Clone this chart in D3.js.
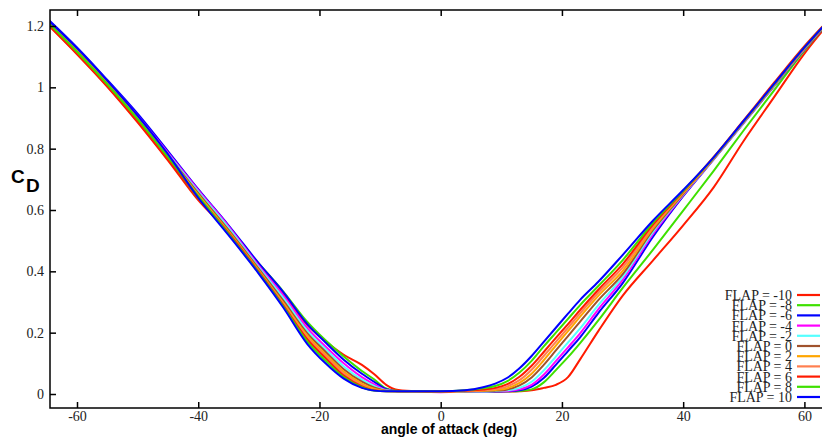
<!DOCTYPE html>
<html>
<head>
<meta charset="utf-8">
<script src="https://cdn.jsdelivr.net/npm/d3@7"></script>
<style>
  body { margin: 0; background: #fff; }
  svg { display: block; }
</style>
</head>
<body>
<div id="chart"></div>
<script>
// angle of attack grid (deg)
const alpha = [-65, -60, -55, -50, -45, -40, -35, -30, -26, -22, -19, -16, -13, -11, -9, -7, -4, 0,
  4, 7, 9, 11, 13, 15, 17, 19, 21, 23, 26, 30, 35, 40, 45, 50, 55, 60, 65];

const flapLabels = ["FLAP = -10", "FLAP = -8", "FLAP = -6", "FLAP = -4", "FLAP = -2", "FLAP = 0",
  "FLAP = 2", "FLAP = 4", "FLAP = 6", "FLAP = 8", "FLAP = 10"];

// CD for each flap setting
const cdFlapM10 = [1.208, 1.108, 1.002, 0.886, 0.762, 0.632, 0.53, 0.415, 0.325, 0.225, 0.172, 0.128, 0.095, 0.065, 0.03, 0.013, 0.009, 0.008,
  0.008, 0.008, 0.008, 0.008, 0.009, 0.012, 0.02, 0.03, 0.055, 0.113, 0.205, 0.32, 0.435, 0.55, 0.673, 0.826, 0.968, 1.11, 1.232];
const cdFlapM8 = [1.213, 1.115, 1.008, 0.892, 0.769, 0.64, 0.535, 0.425, 0.335, 0.235, 0.175, 0.122, 0.075, 0.048, 0.018, 0.01, 0.009, 0.008,
  0.008, 0.008, 0.008, 0.009, 0.01, 0.015, 0.038, 0.078, 0.12, 0.166, 0.24, 0.345, 0.47, 0.598, 0.727, 0.86, 0.99, 1.12, 1.235];
const cdFlapM6 = [1.226, 1.13, 1.024, 0.914, 0.792, 0.668, 0.55, 0.426, 0.333, 0.228, 0.168, 0.112, 0.066, 0.04, 0.016, 0.009, 0.009, 0.008,
  0.008, 0.008, 0.008, 0.009, 0.012, 0.024, 0.052, 0.095, 0.14, 0.185, 0.264, 0.361, 0.512, 0.645, 0.764, 0.884, 1.004, 1.124, 1.236];
const cdFlapM4 = [1.222, 1.125, 1.02, 0.908, 0.787, 0.665, 0.547, 0.418, 0.322, 0.215, 0.155, 0.1, 0.055, 0.032, 0.013, 0.009, 0.008, 0.006,
  0.008, 0.008, 0.009, 0.01, 0.015, 0.03, 0.063, 0.107, 0.152, 0.198, 0.276, 0.372, 0.521, 0.648, 0.765, 0.885, 1.005, 1.125, 1.237];
const cdFlapM2 = [1.22, 1.122, 1.017, 0.904, 0.783, 0.66, 0.542, 0.413, 0.314, 0.206, 0.146, 0.09, 0.047, 0.026, 0.012, 0.009, 0.009, 0.007,
  0.008, 0.008, 0.01, 0.012, 0.02, 0.04, 0.077, 0.122, 0.168, 0.214, 0.29, 0.381, 0.528, 0.65, 0.766, 0.886, 1.006, 1.126, 1.237];
const cdFlap0 = [1.218, 1.12, 1.015, 0.901, 0.779, 0.655, 0.535, 0.408, 0.305, 0.198, 0.138, 0.081, 0.04, 0.021, 0.011, 0.009, 0.009, 0.008,
  0.009, 0.01, 0.011, 0.015, 0.028, 0.054, 0.095, 0.142, 0.189, 0.236, 0.306, 0.39, 0.534, 0.652, 0.767, 0.887, 1.007, 1.127, 1.238];
const cdFlap2 = [1.217, 1.118, 1.013, 0.899, 0.776, 0.65, 0.53, 0.403, 0.298, 0.19, 0.13, 0.073, 0.034, 0.017, 0.01, 0.009, 0.009, 0.008,
  0.009, 0.011, 0.013, 0.019, 0.036, 0.066, 0.11, 0.158, 0.205, 0.252, 0.32, 0.401, 0.54, 0.655, 0.768, 0.888, 1.008, 1.128, 1.238];
const cdFlap4 = [1.216, 1.116, 1.011, 0.896, 0.774, 0.646, 0.527, 0.4, 0.294, 0.184, 0.124, 0.067, 0.029, 0.014, 0.01, 0.009, 0.009, 0.008,
  0.01, 0.012, 0.016, 0.025, 0.045, 0.079, 0.124, 0.17, 0.216, 0.263, 0.33, 0.412, 0.546, 0.657, 0.769, 0.889, 1.009, 1.129, 1.239];
const cdFlap6 = [1.21, 1.11, 1.004, 0.889, 0.765, 0.642, 0.525, 0.398, 0.29, 0.178, 0.117, 0.06, 0.025, 0.012, 0.009, 0.009, 0.009, 0.008,
  0.011, 0.015, 0.02, 0.032, 0.056, 0.092, 0.137, 0.183, 0.228, 0.274, 0.34, 0.423, 0.552, 0.66, 0.772, 0.893, 1.015, 1.134, 1.24];
const cdFlap8 = [1.215, 1.116, 1.01, 0.896, 0.772, 0.645, 0.522, 0.395, 0.287, 0.171, 0.109, 0.055, 0.022, 0.011, 0.009, 0.009, 0.009, 0.009,
  0.012, 0.019, 0.026, 0.042, 0.07, 0.108, 0.155, 0.2, 0.245, 0.29, 0.352, 0.436, 0.558, 0.662, 0.77, 0.89, 1.01, 1.13, 1.24];
const cdFlap10 = [1.224, 1.128, 1.022, 0.908, 0.782, 0.64, 0.518, 0.392, 0.283, 0.163, 0.1, 0.05, 0.02, 0.011, 0.009, 0.009, 0.009, 0.009,
  0.012, 0.022, 0.034, 0.053, 0.084, 0.124, 0.17, 0.216, 0.262, 0.307, 0.366, 0.453, 0.565, 0.665, 0.771, 0.891, 1.011, 1.13, 1.24];

const xTicks = [-60, -40, -20, 0, 20, 40, 60];
const yTicks = [0, 0.2, 0.4, 0.6, 0.8, 1, 1.2];

const colors = ["#ff1a00", "#3ee000", "#0000ff", "#ff00ff", "#55ffff", "#a0522d",
  "#ffa500", "#ff7f50", "#ff1a00", "#3ee000", "#0000ff"];

const cdSeries = [cdFlapM10, cdFlapM8, cdFlapM6, cdFlapM4, cdFlapM2, cdFlap0,
  cdFlap2, cdFlap4, cdFlap6, cdFlap8, cdFlap10];

const width = 822, height = 443;
const plot = { left: 50, top: 10, right: 834, bottom: 408 };

const x = d3.scaleLinear().domain([-60, 60]).range([77, 804.4]);
const y = d3.scaleLinear().domain([0, 1.2]).range([394, 26]);

const svg = d3.select("#chart").append("svg")
  .attr("width", width)
  .attr("height", height);

svg.append("defs").append("clipPath").attr("id", "clip")
  .append("rect")
  .attr("x", plot.left).attr("y", plot.top)
  .attr("width", plot.right - plot.left).attr("height", plot.bottom - plot.top);

// curves
const line = d3.line()
  .x((d) => x(d[0]))
  .y((d) => y(d[1]))
  .curve(d3.curveMonotoneX);

svg.append("g")
  .attr("clip-path", "url(#clip)")
  .selectAll("path")
  .data(cdSeries)
  .join("path")
  .attr("d", (s) => line(alpha.map((a, i) => [a, s[i]])))
  .attr("fill", "none")
  .attr("stroke", (d, i) => colors[i])
  .attr("stroke-width", 2)
  .attr("stroke-linejoin", "round");

// axes (inward ticks)
const tickFont = "'Liberation Serif', 'DejaVu Serif', serif";

const gx = svg.append("g")
  .attr("transform", `translate(0,${plot.bottom})`)
  .call(d3.axisBottom(x).tickValues(xTicks).tickSize(-6).tickPadding(3).tickFormat((d) => String(d)));
gx.select(".domain").remove();

const gxTop = svg.append("g")
  .attr("transform", `translate(0,${plot.top})`)
  .call(d3.axisTop(x).tickValues(xTicks).tickSize(-6).tickFormat(""));
gxTop.select(".domain").remove();

const gy = svg.append("g")
  .attr("transform", `translate(${plot.left},0)`)
  .call(d3.axisLeft(y).tickValues(yTicks).tickSize(-6).tickPadding(6).tickFormat((d) => String(d)));
gy.select(".domain").remove();

svg.selectAll(".tick line").attr("stroke", "#000").attr("stroke-width", 1.5);
svg.selectAll(".tick text")
  .attr("fill", "#222")
  .style("font-family", tickFont)
  .style("font-size", "14px");

// frame
svg.append("rect")
  .attr("x", plot.left).attr("y", plot.top)
  .attr("width", plot.right - plot.left).attr("height", plot.bottom - plot.top)
  .attr("fill", "none")
  .attr("stroke", "#000")
  .attr("stroke-width", 1.5);

// axis titles
svg.append("text")
  .attr("x", 449).attr("y", 434)
  .attr("text-anchor", "middle")
  .style("font-family", "'Liberation Sans', Arial, sans-serif")
  .style("font-weight", "bold")
  .style("font-size", "14px")
  .text("angle of attack (deg)");

const yTitle = svg.append("text")
  .style("font-family", "'Liberation Sans', Arial, sans-serif")
  .style("font-weight", "bold")
  .style("font-size", "19px");
yTitle.append("tspan").attr("x", 11).attr("y", 183).text("C");
yTitle.append("tspan").attr("x", 26).attr("y", 192).text("D");

// legend
const legend = svg.append("g")
  .selectAll("g")
  .data(flapLabels)
  .join("g")
  .attr("transform", (d, i) => `translate(0,${295 + i * 10.2})`);

legend.append("line")
  .attr("x1", 797).attr("x2", 820)
  .attr("stroke", (d, i) => colors[i])
  .attr("stroke-width", 2.2);

legend.append("text")
  .attr("x", 792).attr("y", 5)
  .attr("text-anchor", "end")
  .attr("fill", "#222")
  .style("font-family", tickFont)
  .style("font-size", "14px")
  .text((d) => d);
</script>
</body>
</html>
